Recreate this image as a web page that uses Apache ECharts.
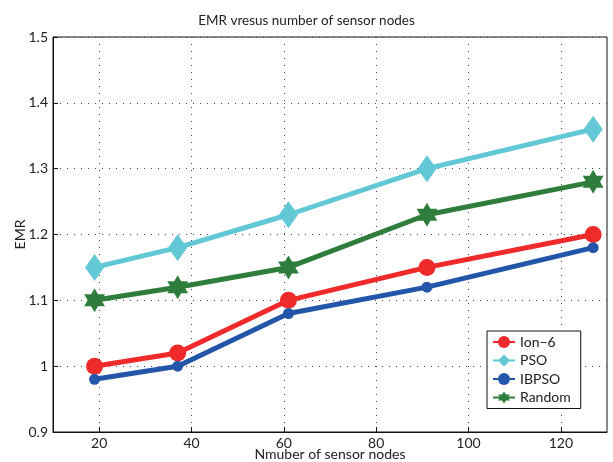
<!DOCTYPE html>
<html>
<head>
<meta charset="utf-8">
<script src="https://cdn.jsdelivr.net/npm/echarts@6/dist/echarts.min.js"></script>
<style>
  html, body { margin: 0; padding: 0; background: #fff; }
  #box { width: 613px; height: 462px; }
</style>
</head>
<body>
<div id="box"></div>
<script>
// sensor node counts on x
var nodes = [19, 37, 61, 91, 127];
var ion6 = [1.00, 1.02, 1.10, 1.15, 1.20];
var pso = [1.15, 1.18, 1.23, 1.30, 1.36];
var ibpso = [0.98, 1.00, 1.08, 1.12, 1.18];
var random = [1.10, 1.12, 1.15, 1.23, 1.28];
var xTicks = [20, 40, 60, 80, 100, 120];

var hexagram = 'path://M0,-100 L28.9,-50 L86.6,-50 L57.7,0 L86.6,50 L28.9,50 L0,100 L-28.9,50 L-86.6,50 L-57.7,0 L-86.6,-50 L-28.9,-50 Z';

function pairs(ys) {
    return nodes.map(function (x, i) { return [x, ys[i]]; });
}

function line(name, ys, color, symbol, size) {
    return {
        name: name,
        type: 'line',
        data: pairs(ys),
        symbol: symbol,
        symbolSize: size,
        symbolKeepAspect: true,
        showAllSymbol: true,
        lineStyle: { color: color, width: 5 },
        itemStyle: { color: color },
        emphasis: { disabled: true },
        z: 3
    };
}

var chart = echarts.init(document.getElementById('box'));
var font = 'Lato';
var option = {
    animation: false,
    textStyle: { fontFamily: font },
    title: {
        text: 'EMR vresus number of sensor nodes',
        left: 'center',
        top: 9,
        textStyle: { fontSize: 13.5, fontWeight: 'normal', color: '#222', fontFamily: font }
    },
    grid: {
        left: 53, right: 6, top: 37, bottom: 30,
        outerBoundsMode: 'none',
        show: true, borderColor: '#111', borderWidth: 1
    },
    legend: {
        orient: 'vertical',
        left: 487, top: 331,
        padding: [4, 10, 4, 5],
        backgroundColor: '#fff',
        borderColor: '#111', borderWidth: 1,
        itemWidth: 22, itemHeight: 15, itemGap: 4.5,
        textStyle: { fontSize: 14, color: '#222', fontFamily: font },
        data: ['Ion\u22126', 'PSO', 'IBPSO', 'Random']
    },
    xAxis: {
        type: 'value',
        min: 10, max: 130,
        name: 'Nmuber of sensor nodes',
        nameLocation: 'middle',
        nameGap: 15,
        nameMoveOverlap: false,
        nameTextStyle: { fontSize: 14, color: '#222', verticalAlign: 'top' },
        axisLine: { lineStyle: { color: '#111' } },
        axisTick: { inside: true, length: 5, customValues: xTicks, lineStyle: { color: '#111' } },
        axisLabel: { customValues: xTicks, fontSize: 14, color: '#222', margin: 4 },
        splitLine: { show: true, lineStyle: { color: '#444', type: [1, 6], width: 1 } }
    },
    yAxis: {
        type: 'value',
        min: 0.9, max: 1.5, interval: 0.1,
        name: 'EMR',
        nameLocation: 'middle',
        nameGap: 26,
        nameMoveOverlap: false,
        nameTextStyle: { fontSize: 14, color: '#222' },
        axisLine: { show: true, lineStyle: { color: '#111' } },
        axisTick: { show: true, inside: true, length: 5, lineStyle: { color: '#111' } },
        axisLabel: { fontSize: 14, color: '#222', margin: 5 },
        splitLine: { show: true, lineStyle: { color: '#444', type: [1, 6], width: 1 } }
    },
    series: [
        line('Ion\u22126', ion6, '#ee2a2a', 'circle', 17),
        line('PSO', pso, '#62c8d6', 'diamond', [19, 27]),
        line('IBPSO', ibpso, '#2355a8', 'circle', 11),
        line('Random', random, '#2f7d3c', hexagram, 24)
    ]
};
chart.setOption(option);
</script>
</body>
</html>
